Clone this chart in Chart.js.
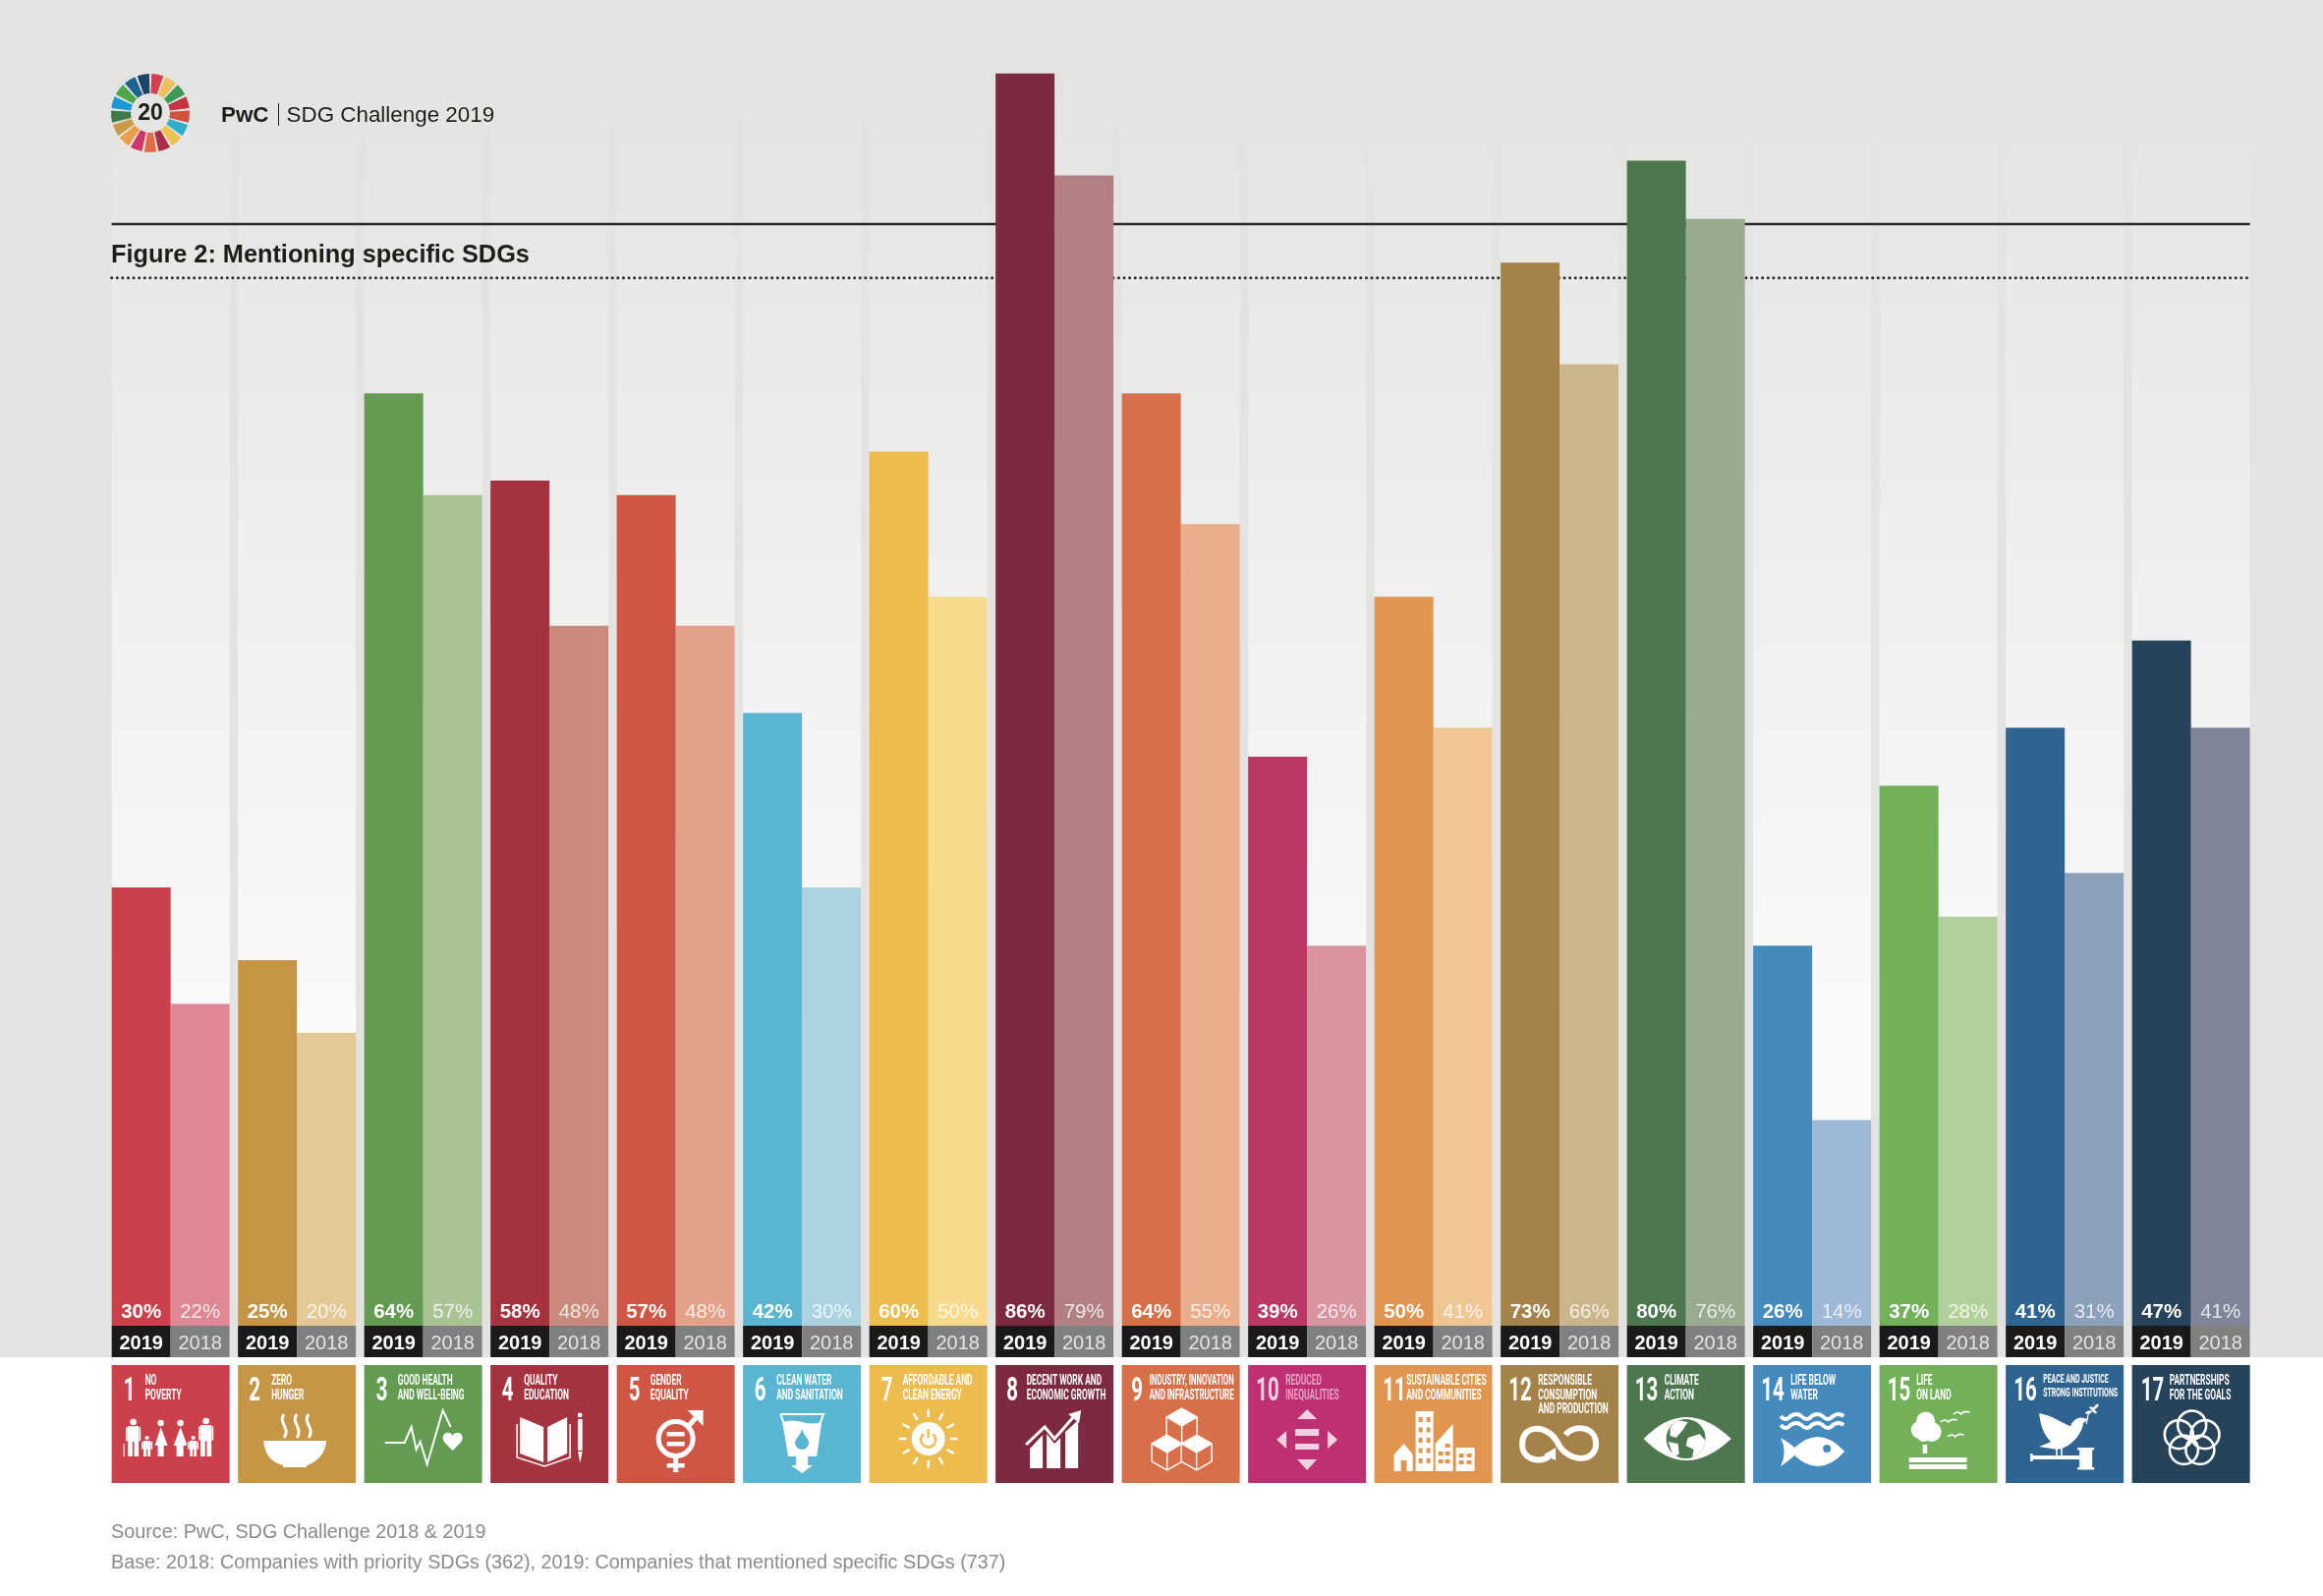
<!DOCTYPE html>
<html>
<head>
<meta charset="utf-8">
<title>Figure 2: Mentioning specific SDGs</title>
<script src="https://cdn.jsdelivr.net/npm/chart.js@4"></script>
<style>
    html, body { margin: 0; padding: 0; background: #fff; }
    #wrap { position: relative; width: 2364px; height: 1624px; overflow: hidden; font-family: "Liberation Sans", Arial, sans-serif; }
    canvas { position: absolute; left: 0; top: 0; }
    .txt { position: absolute; white-space: nowrap; }
    #brand { left: 225px; top: 104px; font-size: 22.4px; line-height: 26px; color: #1d1d1b; }
    #brand b { margin-right: 18px; }
    #brand i { position: absolute; left: 57.5px; top: 1px; width: 1.5px; height: 23px; background: #1d1d1b; }
    #heading { left: 113px; top: 243px; font-size: 25.3px; line-height: 30px; font-weight: bold; color: #1d1d1b; }
    .note { left: 113px; font-size: 19.8px; line-height: 24px; color: #8b8b8b; }
</style>
</head>
<body>
<div id="wrap">
    <canvas id="chart" width="2364" height="1624"></canvas>
    <div class="txt" id="brand"><b>PwC</b><i></i>SDG Challenge 2019</div>
    <div class="txt" id="heading">Figure 2: Mentioning specific SDGs</div>
    <div class="txt note" style="top:1546px">Source: PwC, SDG Challenge 2018 &amp; 2019</div>
    <div class="txt note" style="top:1577px">Base: 2018: Companies with priority SDGs (362), 2019: Companies that mentioned specific SDGs (737)</div>
</div>
<script>
const categories = ['1', '2', '3', '4', '5', '6', '7', '8', '9', '10', '11', '12', '13', '14', '15', '16', '17'];
const values2019 = [30, 25, 64, 58, 57, 42, 60, 86, 64, 39, 50, 73, 80, 26, 37, 41, 47];
const values2018 = [22, 20, 57, 48, 48, 30, 50, 79, 55, 26, 41, 66, 76, 14, 28, 31, 41];
const colors2019 = ['#cb404a', '#c69647', '#629b51', '#a5323f', '#cf5544', '#5ab6d0', '#ecbc4f', '#7d2940', '#d77049', '#bb3866', '#e09650', '#a5824a', '#4c774f', '#448abd', '#72b05a', '#2f6490', '#274359'];
const colors2018 = ['#de8895', '#e4c997', '#a9c394', '#c98a7c', '#e4a189', '#acd4e0', '#f8da8d', '#b27f83', '#e9af8d', '#d8949f', '#f0c695', '#cbb58a', '#98ab8f', '#9db9d6', '#b2d09a', '#8ca0b9', '#7e8597'];
const tileTitles = [
    ['NO', 'POVERTY'], ['ZERO', 'HUNGER'], ['GOOD HEALTH', 'AND WELL-BEING'], ['QUALITY', 'EDUCATION'],
    ['GENDER', 'EQUALITY'], ['CLEAN WATER', 'AND SANITATION'], ['AFFORDABLE AND', 'CLEAN ENERGY'],
    ['DECENT WORK AND', 'ECONOMIC GROWTH'], ['INDUSTRY, INNOVATION', 'AND INFRASTRUCTURE'], ['REDUCED', 'INEQUALITIES'],
    ['SUSTAINABLE CITIES', 'AND COMMUNITIES'], ['RESPONSIBLE', 'CONSUMPTION', 'AND PRODUCTION'], ['CLIMATE', 'ACTION'],
    ['LIFE BELOW', 'WATER'], ['LIFE', 'ON LAND'], ['PEACE AND JUSTICE', 'STRONG INSTITUTIONS'], ['PARTNERSHIPS', 'FOR THE GOALS']
];
const logoColors = ['#d3404f', '#eac05a', '#3f9a58', '#c4343f', '#d2503f', '#2cb0cc', '#efc24d', '#a92c4b', '#dd6d45', '#cf3768', '#e99e49', '#c99a47', '#3d7a47', '#1a97d4', '#4ea84a', '#1b6492', '#1b4468'];

const yMin = -0.15;
const bandTop = 1349;
const bandBottom = 1381;
const tileTop = 1389;
const tileSize = 120;
const titleX = [34, 34, 34, 34, 34, 34, 34, 31.5, 28, 38, 32.5, 38, 38, 38, 37.5, 38, 38];
const numberX = [12, 11, 12, 11.5, 12, 11.5, 12, 11, 9.5, 8, 8.5, 8, 8, 8, 8, 8, 9];

function fillPoly(c, pts) {
    c.beginPath();
    pts.forEach((p, i) => i ? c.lineTo(p[0], p[1]) : c.moveTo(p[0], p[1]));
    c.closePath();
    c.fill();
}

function strokeLine(c, pts) {
    c.beginPath();
    pts.forEach((p, i) => i ? c.lineTo(p[0], p[1]) : c.moveTo(p[0], p[1]));
    c.stroke();
}

function dot(c, x, y, r) {
    c.beginPath();
    c.arc(x, y, r, 0, Math.PI * 2);
    c.fill();
}

function person(c, x, headY, footY, w) {
    const r = w * 0.3;
    dot(c, x, headY, r);
    c.fillRect(x - w / 2, headY + r + 1, w, (footY - headY) * 0.45);
    c.fillRect(x - w / 2, headY + r + 1, w * 0.42, footY - headY - r - 1);
    c.fillRect(x + w * 0.08, headY + r + 1, w * 0.42, footY - headY - r - 1);
    c.fillRect(x - w / 2 - 2, headY + r + 2, 1.6, (footY - headY) * 0.4);
    c.fillRect(x + w / 2 + 0.4, headY + r + 2, 1.6, (footY - headY) * 0.4);
}

function cube(c, cx, cy, s, bg, solidTop) {
    const h = s * 0.58;
    c.fillStyle = bg;
    fillPoly(c, [[cx, cy - h * 2], [cx + s, cy - h], [cx + s, cy + h], [cx, cy + h * 2], [cx - s, cy + h], [cx - s, cy - h]]);
    c.fillStyle = '#fff';
    if (solidTop) fillPoly(c, [[cx, cy - h * 2], [cx + s, cy - h], [cx, cy], [cx - s, cy - h]]);
    c.strokeStyle = '#fff';
    c.lineWidth = 1.4;
    c.beginPath();
    c.moveTo(cx, cy - h * 2);
    c.lineTo(cx + s, cy - h);
    c.lineTo(cx + s, cy + h);
    c.lineTo(cx, cy + h * 2);
    c.lineTo(cx - s, cy + h);
    c.lineTo(cx - s, cy - h);
    c.closePath();
    c.moveTo(cx - s, cy - h);
    c.lineTo(cx, cy);
    c.lineTo(cx + s, cy - h);
    c.moveTo(cx, cy);
    c.lineTo(cx, cy + h * 2);
    c.stroke();
}

// white pictograms, drawn in a 120x120 tile
const icons = [
    function(c) {
        person(c, 22, 58, 93, 11);
        person(c, 36, 74, 93, 7);
        fillPoly(c, [[50, 63], [44, 82], [47, 82], [47, 93], [53, 93], [53, 82], [57, 82]]);
        dot(c, 50, 59, 3.2);
        fillPoly(c, [[70, 63], [63, 82], [66, 82], [66, 93], [73, 93], [73, 82], [77, 82]]);
        dot(c, 70, 59, 3.2);
        person(c, 83, 74, 93, 7);
        person(c, 96, 57, 93, 11);
        c.fillRect(12, 80, 1, 13);
    },
    function(c) {
        c.beginPath();
        c.moveTo(26, 77);
        c.lineTo(90, 77);
        c.bezierCurveTo(89, 92, 78, 100, 70, 102);
        c.lineTo(70, 104);
        c.lineTo(46, 104);
        c.lineTo(46, 102);
        c.bezierCurveTo(36, 100, 27, 92, 26, 77);
        c.fill();
        c.strokeStyle = '#fff';
        c.lineWidth = 3;
        [47, 60, 72].forEach(x => {
            c.beginPath();
            c.moveTo(x, 50);
            c.bezierCurveTo(x - 7, 58, x + 7, 64, x, 74);
            c.stroke();
        });
    },
    function(c) {
        c.strokeStyle = '#fff';
        c.lineWidth = 2;
        strokeLine(c, [[21, 79], [41, 79], [48, 63], [53, 86], [57, 78], [64, 101], [80, 46], [88, 63]]);
        c.beginPath();
        c.moveTo(90, 87);
        c.bezierCurveTo(84, 81, 80, 78, 80, 74);
        c.bezierCurveTo(80, 68, 88, 67, 90, 72);
        c.bezierCurveTo(92, 67, 100, 68, 100, 74);
        c.bezierCurveTo(100, 78, 96, 81, 90, 87);
        c.fill();
    },
    function(c) {
        fillPoly(c, [[30, 53], [54, 63], [54, 99], [30, 90]]);
        fillPoly(c, [[58, 63], [78, 53], [78, 90], [58, 99]]);
        c.strokeStyle = '#fff';
        c.lineWidth = 1.5;
        strokeLine(c, [[27, 60], [27, 94], [55, 103], [81, 94], [81, 60]]);
        c.fillRect(89, 55, 4.5, 32);
        dot(c, 91, 51, 2.4);
        fillPoly(c, [[89, 88], [93.5, 88], [91.2, 100]]);
    },
    function(c, bg) {
        c.strokeStyle = '#fff';
        c.lineWidth = 5;
        c.beginPath();
        c.arc(60, 75, 17.5, 0, Math.PI * 2);
        c.stroke();
        c.fillRect(51, 68, 18, 4.5);
        c.fillRect(51, 78, 18, 4.5);
        c.fillRect(57.5, 94, 5, 15);
        c.fillRect(51, 100, 18, 4.5);
        c.lineWidth = 5;
        strokeLine(c, [[72, 63], [82, 52]]);
        fillPoly(c, [[72, 46], [88, 46], [88, 62], [83, 57], [77, 51]]);
    },
    function(c, bg) {
        c.strokeStyle = '#fff';
        c.lineWidth = 2;
        strokeLine(c, [[38, 50], [82, 50], [78, 60]]);
        strokeLine(c, [[38, 50], [42, 60]]);
        c.beginPath();
        c.moveTo(40, 58);
        c.quadraticCurveTo(50, 55, 60, 58);
        c.quadraticCurveTo(70, 61, 80, 58);
        c.lineTo(75, 93);
        c.lineTo(46, 93);
        c.closePath();
        c.fill();
        fillPoly(c, [[54, 93], [66, 93], [66, 102], [71, 102], [60, 110], [49, 102], [54, 102]]);
        c.fillStyle = bg;
        c.beginPath();
        c.moveTo(60, 65);
        c.bezierCurveTo(62, 72, 67, 75, 67, 79);
        c.arc(60, 79, 7, 0, Math.PI);
        c.bezierCurveTo(53, 75, 58, 72, 60, 65);
        c.fill();
    },
    function(c, bg) {
        c.strokeStyle = '#fff';
        c.lineWidth = 2.4;
        for (let k = 0; k < 12; k++) {
            const a = k * Math.PI / 6;
            strokeLine(c, [[60 + Math.cos(a) * 22, 75 + Math.sin(a) * 22], [60 + Math.cos(a) * 30, 75 + Math.sin(a) * 30]]);
        }
        dot(c, 60, 75, 17);
        c.strokeStyle = bg;
        c.lineWidth = 2.5;
        c.beginPath();
        c.arc(60, 76, 7.5, -0.9, Math.PI + 0.9);
        c.stroke();
        strokeLine(c, [[60, 65], [60, 74]]);
    },
    function(c) {
        fillPoly(c, [[35, 85], [48, 71], [48, 105], [35, 105]]);
        fillPoly(c, [[52, 70], [60, 80], [66, 74], [66, 105], [52, 105]]);
        fillPoly(c, [[71, 68], [84, 56], [84, 105], [71, 105]]);
        c.strokeStyle = '#fff';
        c.lineWidth = 3;
        strokeLine(c, [[31, 81], [50, 63], [60, 75], [80, 52]]);
        fillPoly(c, [[74, 50], [87, 46], [85, 59]]);
    },
    function(c, bg) {
        cube(c, 46, 89, 15.5, bg, true);
        cube(c, 76, 89, 15.5, bg, true);
        cube(c, 61, 62, 15.5, bg, true);
    },
    function(c) {
        c.globalAlpha = 0.78;
        fillPoly(c, [[60, 45], [70, 55], [50, 55]]);
        fillPoly(c, [[50, 96], [70, 96], [60, 107]]);
        fillPoly(c, [[39, 67], [39, 85], [29, 76]]);
        fillPoly(c, [[81, 67], [91, 76], [81, 85]]);
        c.fillRect(48, 65, 24, 7);
        c.fillRect(48, 80, 24, 6);
        c.globalAlpha = 1;
    },
    function(c, bg) {
        fillPoly(c, [[30, 80], [39, 91], [39, 108], [20, 108], [20, 91]]);
        c.fillRect(42, 47, 18, 61);
        fillPoly(c, [[80, 60], [80, 108], [62, 108], [62, 80]]);
        c.fillRect(83, 84, 19, 24);
        c.fillStyle = bg;
        c.fillRect(27, 97, 6, 11);
        for (let r = 0; r < 5; r++) {
            c.fillRect(45, 53 + r * 10.5, 4, 5);
            c.fillRect(53, 53 + r * 10.5, 4, 5);
        }
        for (let r = 0; r < 3; r++) {
            c.fillRect(72, 80 + r * 8, 5, 4);
            if (r) c.fillRect(65, 80 + r * 8, 5, 4);
        }
        [[86, 90], [94, 90], [86, 97], [94, 97]].forEach(p => c.fillRect(p[0], p[1], 5, 4));
    },
    function(c) {
        c.strokeStyle = '#fff';
        c.lineWidth = 6;
        c.beginPath();
        c.moveTo(50, 92);
        c.bezierCurveTo(44, 100, 21, 98, 22, 80);
        c.bezierCurveTo(22, 60, 48, 60, 58, 79);
        c.bezierCurveTo(68, 100, 97, 100, 97, 80);
        c.bezierCurveTo(97, 62, 74, 60, 66, 71);
        c.stroke();
        fillPoly(c, [[44, 91], [56, 84], [56, 97]]);
    },
    function(c, bg) {
        c.beginPath();
        c.moveTo(17, 75);
        c.quadraticCurveTo(60, 31, 106, 75);
        c.quadraticCurveTo(60, 119, 17, 75);
        c.fill();
        c.save();
        c.beginPath();
        c.arc(60, 75, 20, 0, Math.PI * 2);
        c.fillStyle = bg;
        c.fill();
        c.clip();
        c.fillStyle = '#fff';
        fillPoly(c, [[50, 56], [62, 58], [57, 66], [50, 74], [44, 72], [44, 64]]);
        fillPoly(c, [[62, 74], [74, 70], [81, 78], [74, 92], [66, 96], [68, 86], [60, 82]]);
        fillPoly(c, [[42, 78], [52, 80], [53, 90], [48, 95]]);
        c.restore();
    },
    function(c, bg) {
        c.strokeStyle = '#fff';
        c.lineWidth = 4;
        [52, 61].forEach(y => {
            c.beginPath();
            c.moveTo(28, y);
            for (let k = 0; k < 3; k++) {
                c.quadraticCurveTo(33 + k * 21.5, y + 6, 38 + k * 21.5, y);
                c.quadraticCurveTo(44 + k * 21.5, y - 4, 49 + k * 21.5, y);
            }
            c.stroke();
        });
        c.beginPath();
        c.moveTo(28, 74);
        c.quadraticCurveTo(38, 80, 42, 84);
        c.quadraticCurveTo(68, 60, 93, 88);
        c.quadraticCurveTo(68, 116, 42, 92);
        c.quadraticCurveTo(38, 96, 28, 103);
        c.quadraticCurveTo(35, 88, 28, 74);
        c.fill();
        c.fillStyle = bg;
        dot(c, 75, 85, 4);
    },
    function(c) {
        dot(c, 47, 57, 9.5);
        dot(c, 41, 66, 9);
        dot(c, 53, 68, 10);
        dot(c, 45, 71, 7);
        c.fillRect(44, 81, 4.5, 9);
        c.fillRect(30, 94, 59, 5);
        c.fillRect(30, 101, 59, 5);
        c.strokeStyle = '#fff';
        c.lineWidth = 1.6;
        [[62, 58], [75, 50], [69, 73]].forEach(p => {
            c.beginPath();
            c.moveTo(p[0], p[1]);
            c.quadraticCurveTo(p[0] + 5, p[1] - 4, p[0] + 8, p[1]);
            c.quadraticCurveTo(p[0] + 11, p[1] - 4, p[0] + 17, p[1] - 2);
            c.stroke();
        });
    },
    function(c) {
        c.beginPath();
        c.moveTo(34, 49);
        c.bezierCurveTo(50, 52, 62, 62, 66, 62);
        c.bezierCurveTo(68, 56, 74, 52, 79, 54);
        c.lineTo(84, 55);
        c.lineTo(79, 59);
        c.bezierCurveTo(78, 68, 68, 84, 52, 86);
        c.lineTo(40, 84);
        c.lineTo(34, 83);
        c.lineTo(46, 78);
        c.bezierCurveTo(38, 70, 35, 60, 34, 49);
        c.fill();
        c.fillRect(51, 85, 1.6, 7);
        c.fillRect(56, 85, 1.6, 7);
        c.strokeStyle = '#fff';
        c.lineWidth = 1.2;
        strokeLine(c, [[82, 60], [84, 50], [94, 41]]);
        [[84, 48, -0.4], [88, 44, 0.2], [92, 42, -0.8], [90, 47, 0.7]].forEach(p => {
            c.beginPath();
            c.ellipse(p[0], p[1], 3.2, 1.3, p[2], 0, Math.PI * 2);
            c.fill();
        });
        c.fillRect(26, 92, 52, 4);
        c.fillRect(25, 90, 2.5, 8);
        c.fillRect(75, 86, 13, 18);
        c.fillRect(73, 84, 17, 2.5);
        c.fillRect(73, 104, 17, 2.5);
    },
    function(c) {
        c.strokeStyle = '#fff';
        c.lineWidth = 2.6;
        for (let k = 0; k < 5; k++) {
            const a = -Math.PI / 2 + k * Math.PI * 2 / 5;
            c.beginPath();
            c.arc(61 + Math.cos(a) * 14, 75 + Math.sin(a) * 14, 14.5, 0, Math.PI * 2);
            c.stroke();
        }
    }
];

function drawScaled(c, text, x, y, font, scaleX, maxWidth) {
    c.save();
    c.translate(x, y);
    c.scale(scaleX, 1);
    c.font = font;
    if (maxWidth) c.fillText(text, 0, 0, maxWidth / scaleX);
    else c.fillText(text, 0, 0);
    c.restore();
}

function drawLogo(c) {
    const step = Math.PI * 2 / logoColors.length;
    c.lineWidth = 20;
    logoColors.forEach((col, i) => {
        c.strokeStyle = col;
        c.beginPath();
        c.arc(153, 115, 30, -Math.PI / 2 + i * step + 0.03, -Math.PI / 2 + (i + 1) * step - 0.03);
        c.stroke();
    });
    c.fillStyle = '#1d1d1b';
    c.font = 'bold 23px "Liberation Sans"';
    c.textAlign = 'center';
    c.textBaseline = 'middle';
    c.fillText('20', 153, 116);
}

const backdrop = {
    id: 'backdrop',
    beforeDatasetsDraw(chart) {
        const c = chart.ctx;
        const first = chart.getDatasetMeta(0).data;
        const second = chart.getDatasetMeta(1).data;
        c.save();
        c.fillStyle = '#e3e3e1';
        c.fillRect(0, 0, chart.width, bandBottom);

        const fade = c.createLinearGradient(0, 100, 0, 1040);
        fade.addColorStop(0, '#e4e4e2');
        fade.addColorStop(1, '#fafaf8');
        c.fillStyle = fade;
        first.forEach((bar, i) => {
            const left = bar.x - bar.width / 2;
            const right = second[i].x + second[i].width / 2;
            c.fillRect(left, 100, right - left, bandBottom - 100);
        });

        const lineLeft = first[0].x - first[0].width / 2;
        const last = second[second.length - 1];
        const lineRight = last.x + last.width / 2;
        c.strokeStyle = '#2a2a2a';
        c.lineWidth = 2.4;
        strokeLine(c, [[lineLeft, 228], [lineRight, 228]]);
        c.lineWidth = 3;
        c.lineCap = 'round';
        c.setLineDash([0, 5.6]);
        strokeLine(c, [[lineLeft, 282.7], [lineRight, 282.7]]);
        c.setLineDash([]);
        c.lineCap = 'butt';
        drawLogo(c);
        c.restore();
    },
    afterDatasetsDraw(chart) {
        const c = chart.ctx;
        const first = chart.getDatasetMeta(0).data;
        const second = chart.getDatasetMeta(1).data;
        c.save();
        c.textAlign = 'center';
        c.textBaseline = 'middle';
        first.forEach((bar, i) => {
            const b = second[i];
            const left = bar.x - bar.width / 2;

            // year band under each pair of bars
            c.fillStyle = '#1a1a1a';
            c.fillRect(left, bandTop, bar.width, bandBottom - bandTop);
            c.fillStyle = '#808080';
            c.fillRect(b.x - b.width / 2, bandTop, b.width, bandBottom - bandTop);

            c.font = 'bold 20.5px "Liberation Sans"';
            c.fillStyle = '#fff';
            c.fillText(values2019[i] + '%', bar.x, 1335);
            c.font = 'bold 20px "Liberation Sans"';
            c.fillText('2019', bar.x, 1367);
            c.font = '20.5px "Liberation Sans"';
            c.fillStyle = 'rgba(255,255,255,0.8)';
            c.fillText(values2018[i] + '%', b.x, 1335);
            c.font = '20px "Liberation Sans"';
            c.fillStyle = '#e4e4e4';
            c.fillText('2018', b.x, 1367);
        });
        c.restore();

        // SDG tiles
        first.forEach((bar, i) => {
            const left = bar.x - bar.width / 2;
            const bg = i === 9 ? '#be3071' : colors2019[i];
            c.save();
            c.translate(left, tileTop);
            c.fillStyle = bg;
            c.fillRect(0, 0, tileSize, tileSize);
            c.textAlign = 'left';
            c.textBaseline = 'alphabetic';
            c.fillStyle = i === 9 ? 'rgba(255,255,255,0.78)' : '#fff';
            drawScaled(c, categories[i], numberX[i], 36, 'bold 33px Roboto', 0.62);
            if (i === 9) c.fillStyle = 'rgba(255,255,255,0.55)';
            const small = i === 15;
            tileTitles[i].forEach((line, k) => {
                const y = (small ? 18 : 20) + k * (small ? 14 : 14.5);
                drawScaled(c, line, titleX[i], y, small ? 'bold 12px Roboto' : 'bold 14.5px Roboto', 0.58, tileSize - titleX[i] - 6);
            });
            c.fillStyle = '#fff';
            icons[i](c, bg);
            c.restore();
        });
    }
};

const chart = new Chart(document.getElementById('chart').getContext('2d'), {
    type: 'bar',
    data: {
        labels: categories,
        datasets: [
            { label: '2019', data: values2019, backgroundColor: colors2019, base: yMin },
            { label: '2018', data: values2018, backgroundColor: colors2018, base: yMin }
        ]
    },
    options: {
        responsive: false,
        animation: false,
        events: [],
        layout: { padding: { left: 109.4, right: 70.1, top: 15.7, bottom: 275 } },
        datasets: { bar: { categoryPercentage: 120 / 128.5, barPercentage: 1, borderWidth: 0 } },
        scales: {
            x: { display: false, grid: { display: false } },
            y: { display: false, min: yMin, max: 90, grid: { display: false } }
        },
        plugins: {
            legend: { display: false },
            tooltip: { enabled: false },
            title: { display: false }
        }
    },
    plugins: [backdrop]
});
</script>
</body>
</html>
